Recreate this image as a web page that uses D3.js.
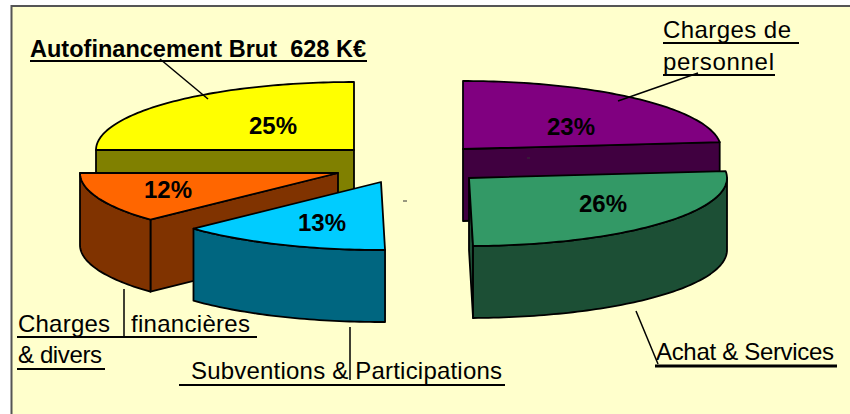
<!DOCTYPE html>
<html>
<head>
<meta charset="utf-8">
<script src="https://cdn.jsdelivr.net/npm/d3@7"></script>
<style>
  html, body { margin: 0; padding: 0; background: #fff; }
  svg { display: block; }
  text { font-family: "Liberation Sans", Arial, sans-serif; fill: #000; }
</style>
</head>
<body>
<svg id="chart"></svg>
<script>
// parts du camembert, dans le sens horaire depuis midi
const categories = ['Charges de personnel', 'Achat & Services', 'Subventions & Participations', 'Charges financières & divers', 'Autofinancement Brut'];
const shares = [23.4, 26.35, 13.2, 12.05, 25];
const topColors = ['#800080', '#339966', '#00CCFF', '#FF6600', '#FFFF00'];
const sideColors = ['#400040', '#1C4F35', '#006680', '#803300', '#808000'];

const W = 850, H = 414;
const RX = 258, RY = 68, DEPTH = 72;

// centre de chaque part éclatée
const centers = [[463, 149], [469, 178], [381, 182], [338, 173], [354, 150]];
// ordre de dessin : du fond vers l'avant
const drawOrder = [4, 0, 3, 2, 1];
const pctPos = [[571, 126], [603, 203], [322, 222], [168, 189], [273, 125]];

// étiquettes : texte, x, y (ligne de base), largeur, gras, taille
const labels = [
  ['Autofinancement Brut  628 K€', 30, 57, 336, true, 23.5],
  ['Charges de', 663, 38, 128, false, 24],
  ['personnel', 663, 70, 111, false, 24],
  ['Charges', 18, 332, 92, false, 24],
  ['financières', 131, 332, 119, false, 24],
  ['& divers', 18, 363, 84, false, 24],
  ['Subventions & Participations', 191, 379, 311, false, 24],
  ['Achat & Services', 656, 360, 178, false, 24],
];
// soulignés
const underlines = [
  [30, 61, 367, 2],
  [663, 43, 799, 2],
  [663, 75, 775, 2],
  [17, 337, 257, 2],
  [17, 369, 105, 2],
  [179, 385, 505, 2],
  [655, 366, 837, 3],
];
// traits de rappel
const leaders = [
  [160, 59, 208, 99],
  [698, 73, 618, 101],
  [124, 289, 124, 336],
  [350, 327, 350, 380],
  [636, 311, 658, 364],
];
// petites marques parasites de la capture
const specks = [[403, 201, 407, 201], [527, 158, 530, 158]];

const svg = d3.select('#chart').attr('width', W).attr('height', H);

// fond et cadre
svg.append('rect')
  .attr('x', 11).attr('y', 6).attr('width', W - 11).attr('height', H - 6)
  .attr('fill', '#FFFFCC');
svg.append('path')
  .attr('d', `M11.5,${H} V6 H${W}`)
  .attr('fill', 'none').attr('stroke', '#555').attr('stroke-width', 2);

const pie = d3.pie().sort(null).startAngle(0).endAngle(2 * Math.PI);
const slices = pie(shares);

// point de l'ellipse pour un angle (0 = midi, sens horaire)
const px = (c, a) => c[0] + RX * Math.sin(a);
const py = (c, a) => c[1] - RY * Math.cos(a);

const line = d3.line();

function arcPoints(c, a0, a1, dy) {
  const n = Math.max(2, Math.ceil(Math.abs(a1 - a0) / 0.02));
  return d3.range(n + 1).map(i => {
    const a = a0 + (a1 - a0) * i / n;
    return [px(c, a), py(c, a) + dy];
  });
}

function wall(c, a) {
  return [[c[0], c[1]], [px(c, a), py(c, a)], [px(c, a), py(c, a) + DEPTH], [c[0], c[1] + DEPTH]];
}

const pieG = svg.append('g')
  .attr('stroke', '#000').attr('stroke-width', 1.8).attr('stroke-linejoin', 'round');

drawOrder.forEach(i => {
  const s = slices[i], c = centers[i];
  const g = pieG.append('g');

  // parois radiales, seulement celles tournées vers l'avant
  if (Math.sin(s.startAngle) < -1e-6) {
    g.append('path').attr('d', line(wall(c, s.startAngle)) + 'Z').attr('fill', sideColors[i]);
  }
  if (Math.sin(s.endAngle) > 1e-6) {
    g.append('path').attr('d', line(wall(c, s.endAngle)) + 'Z').attr('fill', sideColors[i]);
  }

  // paroi extérieure
  const a0 = Math.max(s.startAngle, Math.PI / 2);
  const a1 = Math.min(s.endAngle, 3 * Math.PI / 2);
  if (a1 > a0) {
    const pts = arcPoints(c, a0, a1, 0).concat(arcPoints(c, a1, a0, DEPTH));
    g.append('path').attr('d', line(pts) + 'Z').attr('fill', sideColors[i]);
  }

  // dessus
  const top = [[c[0], c[1]]].concat(arcPoints(c, s.startAngle, s.endAngle, 0));
  g.append('path').attr('d', line(top) + 'Z').attr('fill', topColors[i]);
});

// pourcentages
svg.append('g').selectAll('text')
  .data(slices)
  .join('text')
  .attr('x', (d, i) => pctPos[i][0])
  .attr('y', (d, i) => pctPos[i][1])
  .attr('dy', '0.36em')
  .attr('text-anchor', 'middle')
  .attr('font-size', 24)
  .attr('font-weight', 'bold')
  .text(d => Math.round(d.value) + '%');

// traits de rappel
svg.append('g').selectAll('line')
  .data(leaders)
  .join('line')
  .attr('x1', d => d[0]).attr('y1', d => d[1])
  .attr('x2', d => d[2]).attr('y2', d => d[3])
  .attr('stroke', '#000').attr('stroke-width', 1.5);

svg.append('g').selectAll('line')
  .data(specks)
  .join('line')
  .attr('x1', d => d[0]).attr('y1', d => d[1])
  .attr('x2', d => d[2]).attr('y2', d => d[3])
  .attr('stroke', '#333').attr('stroke-width', 1);

// étiquettes
svg.append('g').selectAll('text')
  .data(labels)
  .join('text')
  .attr('x', d => d[1])
  .attr('y', d => d[2])
  .attr('xml:space', 'preserve')
  .style('white-space', 'pre')
  .attr('font-size', d => d[5])
  .attr('font-weight', d => d[4] ? 'bold' : 'normal')
  .attr('textLength', d => d[3])
  .attr('lengthAdjust', 'spacing')
  .text(d => d[0]);

svg.append('g').selectAll('line')
  .data(underlines)
  .join('line')
  .attr('x1', d => d[0]).attr('y1', d => d[1])
  .attr('x2', d => d[2]).attr('y2', d => d[1])
  .attr('stroke', '#000')
  .attr('stroke-width', d => d[3]);
</script>
</body>
</html>
